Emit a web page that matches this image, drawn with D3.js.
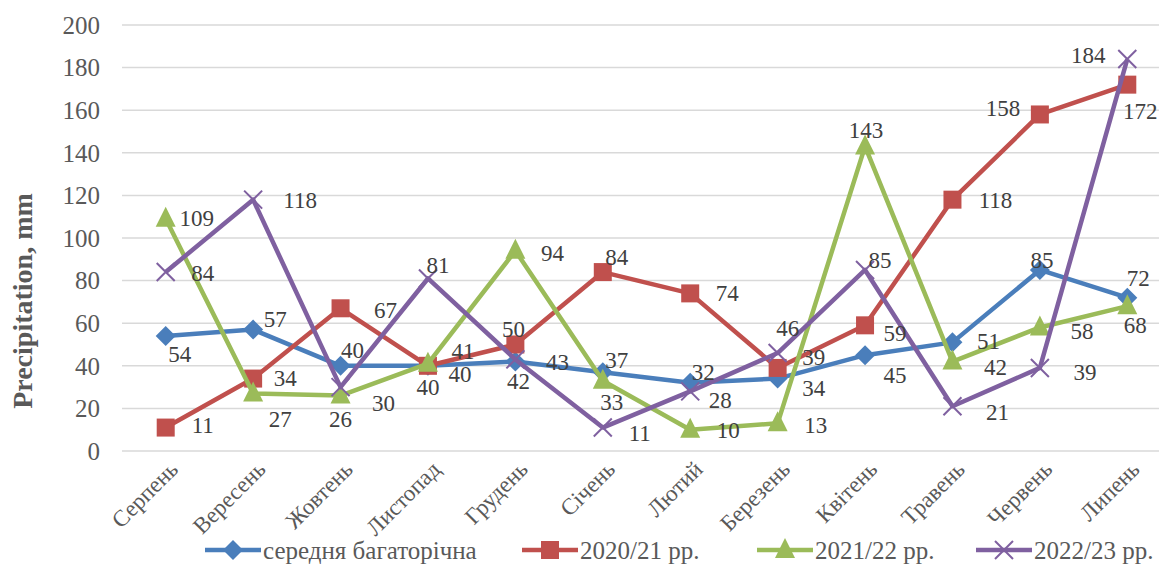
<!DOCTYPE html>
<html>
<head>
<meta charset="utf-8">
<script src="https://cdn.jsdelivr.net/npm/d3@7"></script>
<style>
  body { margin: 0; background: #fff; }
  svg { display: block; font-family: "Liberation Serif", "Times New Roman", serif; }
</style>
</head>
<body>
<svg id="chart"></svg>
<script>
// data
const months = ["Серпень", "Вересень", "Жовтень", "Листопад", "Грудень", "Січень",
  "Лютий", "Березень", "Квітень", "Травень", "Червень", "Липень"];
const seriesNames = ["середня багаторічна", "2020/21 рр.", "2021/22 рр.", "2022/23 рр."];
const avgValues = [54, 57, 40, 40, 42, 37, 32, 34, 45, 51, 85, 72];
const y2021Values = [11, 34, 67, 40, 50, 84, 74, 39, 59, 118, 158, 172];
const y2022Values = [109, 27, 26, 41, 94, 33, 10, 13, 143, 42, 58, 68];
const y2023Values = [84, 118, 30, 81, 43, 11, 28, 46, 85, 21, 39, 184];
const yTicks = [0, 20, 40, 60, 80, 100, 120, 140, 160, 180, 200];

const width = 1159, height = 565;
const colors = ["#4a7ebb", "#c0504d", "#9bbb59", "#7f60a0"];
const markers = ["diamond", "square", "triangle", "cross"];

// label offsets from the point (dx, dy), hand tuned to the picture
const labelOffsets = [
  [[14,18],[22,-11],[12,-16],[32,8],[3,19],[14,-12],[13,-11],[36,9],[30,20],[36,-1],[2,-10],[11,-20]],
  [[37,-3],[32,-1],[45,2],[0,21],[-2,-16],[14,-15],[37,0],[36,-11],[30,8],[43,0],[-37,-7],[13,26]],
  [[31,-1],[27,25],[0,23],[35,-13],[37,2],[9,21],[38,0],[38,2],[1,-16],[43,5],[42,3],[8,19]],
  [[37,1],[47,0],[43,16],[10,-14],[42,3],[37,5],[30,9],[10,-25],[15,-10],[45,6],[45,4],[-39,-4]]
];

const series = [avgValues, y2021Values, y2022Values, y2023Values].map((values, i) => ({
  name: seriesNames[i], values, color: colors[i], marker: markers[i], offsets: labelOffsets[i]
}));

const margin = { top: 25, right: -12, bottom: 114, left: 122 };

const svg = d3.select("#chart").attr("width", width).attr("height", height);

const x = d3.scalePoint()
  .domain(months)
  .range([margin.left, width - margin.right])
  .padding(0.5);

const y = d3.scaleLinear()
  .domain([0, 200])
  .range([height - margin.bottom, margin.top]);

// gridlines
svg.append("g")
  .selectAll("line")
  .data(yTicks)
  .join("line")
  .attr("x1", margin.left)
  .attr("x2", width)
  .attr("y1", d => y(d))
  .attr("y2", d => y(d))
  .attr("stroke", "#d9d9d9")
  .attr("stroke-width", 1.5);

// y axis labels
svg.append("g")
  .selectAll("text")
  .data(yTicks)
  .join("text")
  .attr("x", 100)
  .attr("y", d => y(d))
  .attr("dy", "0.35em")
  .attr("text-anchor", "end")
  .attr("fill", "#595959")
  .style("font-size", "25px")
  .text(d => d);

// y axis title
svg.append("text")
  .attr("transform", "translate(32,301) rotate(-90)")
  .attr("text-anchor", "middle")
  .attr("fill", "#595959")
  .style("font-size", "28px")
  .style("font-weight", "bold")
  .text("Precipitation, mm");

// x axis labels
svg.append("g")
  .selectAll("text")
  .data(months)
  .join("text")
  .attr("transform", d => `translate(${x(d) + 8},${height - margin.bottom + 14}) rotate(-45)`)
  .attr("text-anchor", "end")
  .attr("dy", "0.35em")
  .attr("fill", "#595959")
  .style("font-size", "23px")
  .text(d => d);

function drawMarker(g, type, color) {
  if (type === "diamond") {
    g.append("path").attr("d", "M0,-10L10,0L0,10L-10,0Z").attr("fill", color);
  } else if (type === "square") {
    g.append("rect").attr("x", -9).attr("y", -9).attr("width", 18).attr("height", 18).attr("fill", color);
  } else if (type === "triangle") {
    g.append("path").attr("d", "M0,-12L10,8L-10,8Z").attr("fill", color);
  } else {
    g.append("path").attr("d", "M-9,-9L9,9M-9,9L9,-9").attr("stroke", color).attr("stroke-width", 2).attr("fill", "none");
  }
}

const line = d3.line()
  .x((d, i) => x(months[i]))
  .y(d => y(d));

// lines and markers
series.forEach(s => {
  const g = svg.append("g");
  g.append("path")
    .attr("d", line(s.values))
    .attr("fill", "none")
    .attr("stroke", s.color)
    .attr("stroke-width", 4.5)
    .attr("stroke-linejoin", "round");
  g.selectAll("g.m")
    .data(s.values)
    .join("g")
    .attr("class", "m")
    .attr("transform", (d, i) => `translate(${x(months[i])},${y(d)})`)
    .each(function () { drawMarker(d3.select(this), s.marker, s.color); });
});

// data labels on top
series.forEach(s => {
  svg.append("g")
    .selectAll("text")
    .data(s.values)
    .join("text")
    .attr("x", (d, i) => x(months[i]) + s.offsets[i][0])
    .attr("y", (d, i) => y(d) + s.offsets[i][1])
    .attr("dy", "0.35em")
    .attr("text-anchor", "middle")
    .attr("fill", "#404040")
    .style("font-size", "23px")
    .text(d => d);
});

// legend
const legendX = [205, 522, 757, 976];
const legend = svg.append("g")
  .selectAll("g")
  .data(series)
  .join("g")
  .attr("transform", (d, i) => `translate(${legendX[i]},550)`);
legend.append("line")
  .attr("x1", 0).attr("x2", 56)
  .attr("stroke", d => d.color)
  .attr("stroke-width", 4.5);
legend.append("g")
  .attr("transform", "translate(28,0)")
  .each(function (d) { drawMarker(d3.select(this), d.marker, d.color); });
legend.append("text")
  .attr("x", 58)
  .attr("dy", "0.35em")
  .attr("fill", "#595959")
  .style("font-size", "25px")
  .text(d => d.name);
</script>
</body>
</html>
